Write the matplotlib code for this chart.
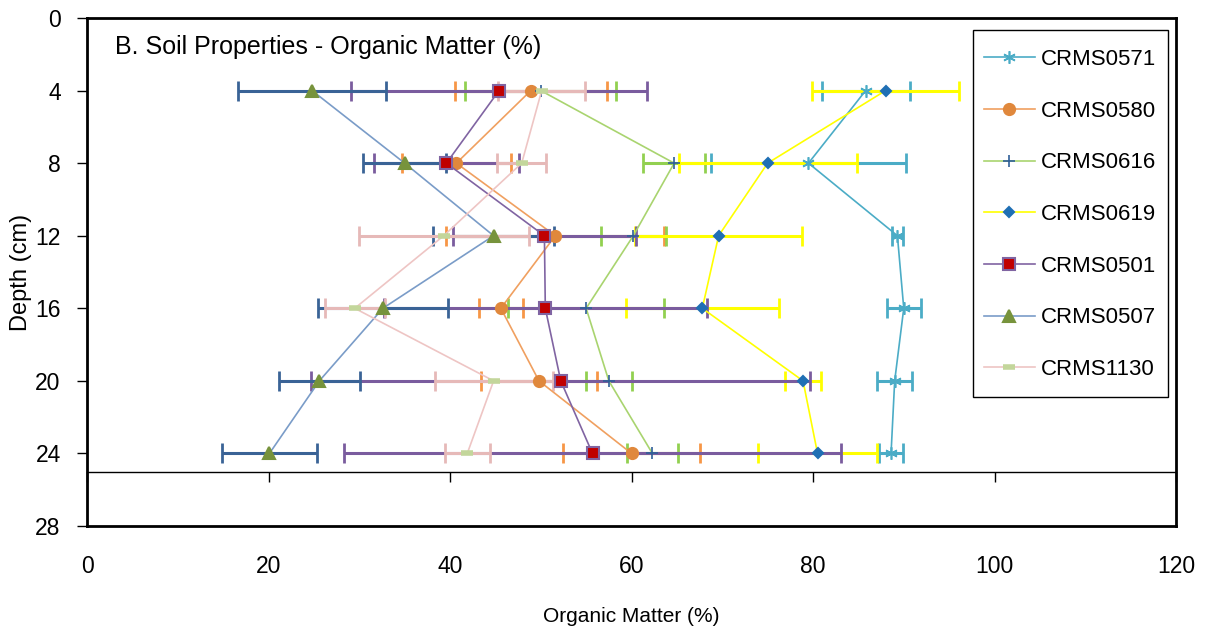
import numpy as np
import matplotlib
matplotlib.use("Agg")
import matplotlib.pyplot as plt
from matplotlib.patches import Rectangle

plt.rcParams['font.family'] = ['Liberation Sans', 'DejaVu Sans']

depth = [4, 8, 12, 16, 20, 24]

names = ["CRMS0571", "CRMS0580", "CRMS0616", "CRMS0619", "CRMS0501", "CRMS0507", "CRMS1130"]
om_0571 = [85.8, 79.5, 89.3, 90.0, 89.0, 88.6]
err_0571 = [4.85, 10.7, 0.6, 1.85, 1.95, 1.35]
om_0580 = [48.9, 40.7, 51.6, 45.6, 49.8, 60.0]
err_0580 = [8.4, 6.0, 12.0, 2.4, 6.4, 7.6]
om_0616 = [50.0, 64.7, 60.2, 55.0, 57.5, 62.3]
err_0616 = [8.3, 3.4, 3.6, 8.6, 2.5, 2.85]
om_0619 = [88.0, 75.0, 69.6, 67.8, 78.9, 80.5]
err_0619 = [8.1, 9.8, 9.2, 8.45, 1.95, 6.55]
om_0501 = [45.4, 39.6, 50.4, 50.5, 52.2, 55.7]
err_0501 = [16.3, 8.0, 10.05, 17.8, 27.5, 27.35]
om_0507 = [24.8, 35.0, 44.8, 32.6, 25.6, 20.1]
err_0507 = [8.15, 4.55, 6.7, 7.2, 4.5, 5.25]
om_1130 = [50.1, 47.9, 39.3, 29.5, 44.8, 41.9]
err_1130 = [4.8, 2.7, 9.35, 3.3, 6.5, 2.5]

values = [om_0571, om_0580, om_0616, om_0619, om_0501, om_0507, om_1130]
errors = [err_0571, err_0580, err_0616, err_0619, err_0501, err_0507, err_1130]

# line colour, error bar colour, marker, marker face, marker edge, marker size
styles = [
    ("#4BACC6", "#4BACC6", (6, 2, 0), "#4BACC6", "#4BACC6", 9),
    ("#F0A060", "#F79646", "o", "#E0883C", "#E0883C", 8),
    ("#A9D46F", "#92D050", "+", "#2F5F98", "#2F5F98", 9),
    ("#FFFF00", "#FFFF00", "D", "#1F6FB4", "#1F6FB4", 5.5),
    ("#8064A2", "#7A5C9E", "s", "#C00000", "#8064A2", 8),
    ("#7A9CC8", "#3A6396", "^", "#77933C", "#77933C", 9),
    ("#EEC5C4", "#E6B9B8", "_", "#C3D69B", "#C3D69B", 9),
]

fig = plt.figure(figsize=(12.09, 6.28), dpi=100)
ax = fig.add_axes([0.072, 0.1624, 0.9007, 0.8089])

handles = []
for name, x, e, st in zip(names, values, errors, styles):
    lc, ec, mk, mf, me, ms = st
    ax.errorbar(x, depth, xerr=e, fmt='none', ecolor=ec, elinewidth=2.2,
                capsize=7, capthick=2, zorder=2)
for name, x, e, st in zip(names, values, errors, styles):
    lc, ec, mk, mf, me, ms = st
    mew = 1.5
    if mk == "_":
        mew = 4
    elif mk == "+" or isinstance(mk, tuple):
        mew = 1.2
    h, = ax.plot(x, depth, color=lc, lw=1.2, marker=mk, markersize=ms,
                 markerfacecolor=mf, markeredgecolor=me, markeredgewidth=mew,
                 label=name, zorder=3)
    handles.append(h)

ax.set_xlim(0, 120)
ax.set_ylim(28, 0)
ax.set_xticks(np.arange(0, 121, 20))
ax.set_yticks(np.arange(0, 29, 4))
for s in ax.spines.values():
    s.set_linewidth(2)
ax.tick_params(axis='y', direction='out', length=7, width=1, labelsize=16.5, pad=12)
ax.tick_params(axis='x', length=0, labelsize=16.5, pad=21)

# horizontal axis line crossing at depth 25
sec = ax.secondary_xaxis(3 / 28)
sec.spines['bottom'].set_linewidth(1)
sec.set_xticks(np.arange(0, 121, 20))
sec.tick_params(axis='x', direction='out', length=7, width=1, labelbottom=False)

ax.set_xlabel("Organic Matter (%)", fontsize=15, labelpad=21)
ax.set_ylabel("Depth (cm)", fontsize=17, labelpad=2)

ax.text(0.0257, 0.943, "B. Soil Properties - Organic Matter (%)", transform=ax.transAxes,
        fontsize=18, va='center', ha='left')

# legend box drawn separately so its padding can match the original
ax.add_patch(Rectangle((0.8133, 0.254), 0.9924 - 0.8133, 0.9764 - 0.254,
                       transform=ax.transAxes, facecolor='white', edgecolor='black',
                       lw=1, zorder=4))
leg = ax.legend(handles=handles, loc='upper right', bbox_to_anchor=(0.9927, 0.9628),
                fontsize=16, frameon=False, handlelength=2.3,
                handletextpad=0.25, labelspacing=1.38, borderpad=0.55, borderaxespad=0)
leg.set_zorder(5)

fig.savefig("out.png", dpi=100)
